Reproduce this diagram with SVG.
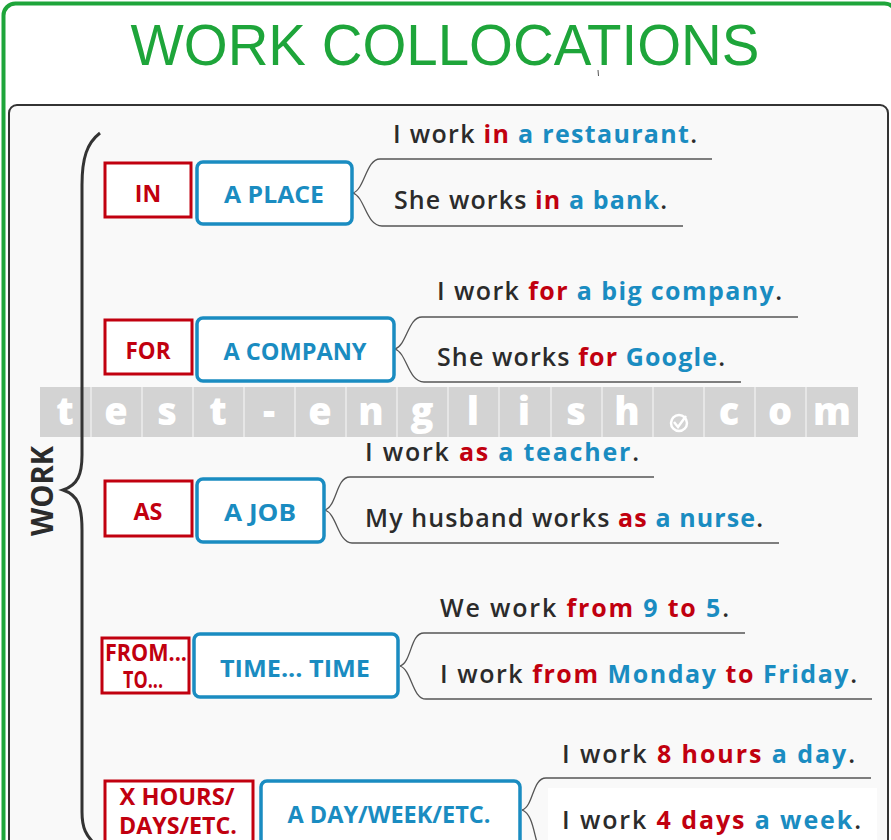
<svg xmlns="http://www.w3.org/2000/svg" width="891" height="840" viewBox="0 0 891 840">
<defs>
<style>
.title{font-family:"Liberation Sans",Arial,sans-serif;font-size:58px;fill:#1ea53a;}
.s{font-family:"Open Sans","DejaVu Sans",sans-serif;font-size:25px;font-weight:600;fill:#2b2b2b;}
.r{fill:#c1000f;font-weight:700;}
.b{fill:#1a8cc1;font-weight:700;}
.lr{font-family:"Open Sans","DejaVu Sans",sans-serif;font-size:23px;font-weight:700;fill:#c1000f;text-anchor:middle;}
.lb{font-family:"Open Sans","DejaVu Sans",sans-serif;font-size:23px;font-weight:700;fill:#1a8cc1;text-anchor:middle;}
.rbox{fill:#ffffff;stroke:#c1000f;stroke-width:3;}
.bbox{fill:#ffffff;stroke:#1a8cc1;stroke-width:3.5;}
.con{fill:none;stroke:#555555;stroke-width:1.3;}
.wm{fill:#d3d3d3;}
.wt{font-family:"Open Sans","DejaVu Sans",sans-serif;font-size:38px;font-weight:800;fill:#ffffff;text-anchor:middle;}
</style>
</defs>
<rect x="0" y="0" width="891" height="840" fill="#ffffff"/>
<rect x="3.5" y="3.5" width="893" height="900" rx="12" fill="#ffffff" stroke="#1ea53a" stroke-width="4"/>
<text class="title" x="445" y="65" text-anchor="middle" textLength="629" lengthAdjust="spacingAndGlyphs">WORK COLLOCATIONS</text>
<line x1="598" y1="70" x2="598.5" y2="76" stroke="#555" stroke-width="1"/>
<rect x="9" y="105" width="879" height="800" rx="8" fill="#f9f9f9" stroke="#333333" stroke-width="2"/>

<g id="watermark">
<rect class="wm" x="40" y="387" width="818" height="50"/>
<g stroke="#f4f4f4" stroke-width="1.2">
<line x1="91" y1="387" x2="91" y2="437"/><line x1="142" y1="387" x2="142" y2="437"/><line x1="193" y1="387" x2="193" y2="437"/><line x1="244" y1="387" x2="244" y2="437"/><line x1="295" y1="387" x2="295" y2="437"/><line x1="346" y1="387" x2="346" y2="437"/><line x1="397" y1="387" x2="397" y2="437"/><line x1="448" y1="387" x2="448" y2="437"/><line x1="499" y1="387" x2="499" y2="437"/><line x1="551" y1="387" x2="551" y2="437"/><line x1="602" y1="387" x2="602" y2="437"/><line x1="653" y1="387" x2="653" y2="437"/><line x1="704" y1="387" x2="704" y2="437"/><line x1="755" y1="387" x2="755" y2="437"/><line x1="806" y1="387" x2="806" y2="437"/>
</g>
<text class="wt" y="425"><tspan x="65">t</tspan><tspan x="116">e</tspan><tspan x="167">s</tspan><tspan x="218">t</tspan><tspan x="269">-</tspan><tspan x="320">e</tspan><tspan x="371">n</tspan><tspan x="422">g</tspan><tspan x="473">l</tspan><tspan x="524">i</tspan><tspan x="576">s</tspan><tspan x="627">h</tspan><tspan x="729">c</tspan><tspan x="780">o</tspan><tspan x="832">m</tspan></text>
<circle cx="679" cy="423" r="8" fill="none" stroke="#ffffff" stroke-width="2.5"/>
<path d="M674,422 L678,427 L686,416" fill="none" stroke="#ffffff" stroke-width="2.5"/>
</g>

<g id="brace">
<path d="M100,133 C87,143 82,158 82,185 L82,455 C82,474 78,485 63,490 C78,495 82,506 82,530 L82,812 C82,828 86,836 96,845" fill="none" stroke="#333333" stroke-width="3"/>
<text x="53" y="491" transform="rotate(-90 53 491)" text-anchor="middle" font-family="'Open Sans','DejaVu Sans',sans-serif" font-size="31" font-weight="700" fill="#2b2b2b" textLength="90" lengthAdjust="spacingAndGlyphs">WORK</text>
</g>

<g id="connectors">
<path class="con" d="M353,193 C365,189 366,159 380,159 L712,159"/>
<path class="con" d="M353,193 C365,197 366,226 382,226 L683,226"/>
<path class="con" d="M395,349 C407,345 408,317 422,317 L798,317"/>
<path class="con" d="M395,349 C407,353 408,382 424,382 L741,382"/>
<path class="con" d="M325,510 C337,506 336,477 350,477 L654,477"/>
<path class="con" d="M325,510 C337,514 338,543 352,543 L779,543"/>
<path class="con" d="M400,666 C412,662 410,633 424,633 L745,633"/>
<path class="con" d="M400,666 C412,670 412,699 426,699 L872,699"/>
<path class="con" d="M522,810 C534,806 532,778 546,778 L871,778"/>
<path class="con" d="M522,810 C534,814 534,840 540,850"/>
</g>

<g id="row-in">
<rect class="rbox" x="105" y="163" width="86" height="54"/>
<text class="lr" x="148" y="202">IN</text>
</g>
<g id="row-in-place">
<rect class="bbox" x="197" y="162" width="155" height="62" rx="6"/>
<text class="lb" x="274" y="203" textLength="100" lengthAdjust="spacingAndGlyphs">A PLACE</text>
</g>
<g id="s1">
<text class="s" x="393" y="143" textLength="304" lengthAdjust="spacing">I work <tspan class="r">in</tspan> <tspan class="b">a restaurant</tspan>.</text>
<text class="s" x="394" y="209" textLength="273" lengthAdjust="spacing">She works <tspan class="r">in</tspan> <tspan class="b">a bank</tspan>.</text>
</g>

<g id="row-for">
<rect class="rbox" x="105" y="320" width="87" height="54"/>
<text class="lr" x="148" y="359" textLength="45" lengthAdjust="spacingAndGlyphs">FOR</text>
</g>
<g id="row-for-company">
<rect class="bbox" x="197" y="318" width="197" height="63" rx="6"/>
<text class="lb" x="295" y="360" textLength="143" lengthAdjust="spacingAndGlyphs">A COMPANY</text>
</g>
<g id="s2">
<text class="s" x="437" y="300" textLength="345" lengthAdjust="spacing">I work <tspan class="r">for</tspan> <tspan class="b">a big company</tspan>.</text>
<text class="s" x="437" y="366" textLength="288" lengthAdjust="spacing">She works <tspan class="r">for</tspan> <tspan class="b">Google</tspan>.</text>
</g>

<g id="row-as">
<rect class="rbox" x="105" y="481" width="87" height="55"/>
<text class="lr" x="148" y="520" textLength="29" lengthAdjust="spacingAndGlyphs">AS</text>
</g>
<g id="row-as-job">
<rect class="bbox" x="197" y="479" width="127" height="63" rx="6"/>
<text class="lb" x="260" y="521" textLength="72" lengthAdjust="spacingAndGlyphs">A JOB</text>
</g>
<g id="s3">
<text class="s" x="365" y="461" textLength="274" lengthAdjust="spacing">I work <tspan class="r">as</tspan> <tspan class="b">a teacher</tspan>.</text>
<text class="s" x="365" y="527" textLength="398" lengthAdjust="spacing">My husband works <tspan class="r">as</tspan> <tspan class="b">a nurse</tspan>.</text>
</g>

<g id="row-from">
<rect class="rbox" x="102" y="638" width="87" height="55"/>
<text class="lr" x="146" y="661" font-size="18" textLength="82" lengthAdjust="spacingAndGlyphs">FROM...</text>
<text class="lr" x="143" y="688" font-size="18" textLength="40" lengthAdjust="spacingAndGlyphs">TO...</text>
</g>
<g id="row-from-time">
<rect class="bbox" x="194" y="634" width="204" height="63" rx="6"/>
<text class="lb" x="295" y="677" textLength="150" lengthAdjust="spacingAndGlyphs">TIME... TIME</text>
</g>
<g id="s4">
<text class="s" x="440" y="617" textLength="289" lengthAdjust="spacing">We work <tspan class="r">from</tspan> <tspan class="b">9</tspan> <tspan class="r">to</tspan> <tspan class="b">5</tspan>.</text>
<text class="s" x="440" y="683" textLength="417" lengthAdjust="spacing">I work <tspan class="r">from</tspan> <tspan class="b">Monday</tspan> <tspan class="r">to</tspan> <tspan class="b">Friday</tspan>.</text>
</g>

<g id="row-hours">
<rect class="rbox" x="105" y="781" width="148" height="80"/>
<text class="lr" x="177" y="805" textLength="115" lengthAdjust="spacingAndGlyphs">X HOURS/</text>
<text class="lr" x="178" y="834" textLength="118" lengthAdjust="spacingAndGlyphs">DAYS/ETC.</text>
</g>
<g id="row-hours-day">
<rect class="bbox" x="261" y="781" width="259" height="80" rx="6"/>
<text class="lb" x="389" y="823" textLength="203" lengthAdjust="spacingAndGlyphs">A DAY/WEEK/ETC.</text>
</g>
<g id="s5">
<rect x="548" y="788" width="329" height="60" fill="#ffffff"/>
<text class="s" x="562" y="763" textLength="293" lengthAdjust="spacing">I work <tspan class="r">8 hours</tspan> <tspan class="b">a day</tspan>.</text>
<text class="s" x="562" y="829" textLength="299" lengthAdjust="spacing">I work <tspan class="r">4 days</tspan> <tspan class="b">a week</tspan>.</text>
</g>
</svg>
